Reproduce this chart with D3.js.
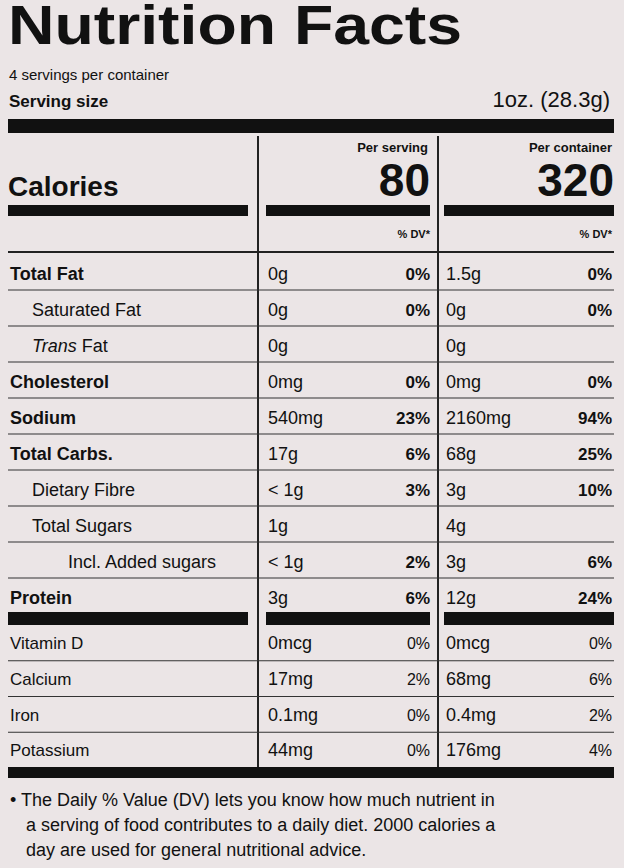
<!DOCTYPE html>
<html>
<head>
<meta charset="utf-8">
<script src="https://cdn.jsdelivr.net/npm/d3@7"></script>
<style>
  body { margin: 0; background: #ebe5e6; }
  text { font-family: "Liberation Sans", Arial, sans-serif; fill: #111; }
</style>
</head>
<body>
<div id="label"></div>
<script>
const nutrients = ['Total Fat', 'Saturated Fat', 'Trans Fat', 'Cholesterol', 'Sodium', 'Total Carbs.', 'Dietary Fibre', 'Total Sugars', 'Incl. Added sugars', 'Protein'];
const indent = [0, 1, 1, 0, 0, 0, 1, 1, 2, 0];
const perServing = ['0g', '0g', '0g', '0mg', '540mg', '17g', '< 1g', '1g', '< 1g', '3g'];
const dvServing = ['0%', '0%', '', '0%', '23%', '6%', '3%', '', '2%', '6%'];
const perContainer = ['1.5g', '0g', '0g', '0mg', '2160mg', '68g', '3g', '4g', '3g', '12g'];
const dvContainer = ['0%', '0%', '', '0%', '94%', '25%', '10%', '', '6%', '24%'];

const vitamins = ['Vitamin D', 'Calcium', 'Iron', 'Potassium'];
const vitServing = ['0mcg', '17mg', '0.1mg', '44mg'];
const vitDvServing = ['0%', '2%', '0%', '0%'];
const vitContainer = ['0mcg', '68mg', '0.4mg', '176mg'];
const vitDvContainer = ['0%', '6%', '2%', '4%'];

const W = 624, H = 868;
const svg = d3.select('#label').append('svg').attr('width', W).attr('height', H);
svg.append('rect').attr('width', W).attr('height', H).attr('fill', '#ebe5e6');

// header
svg.append('text').attr('x', 8).attr('y', 44).attr('textLength', 454).attr('lengthAdjust', 'spacingAndGlyphs')
  .style('font-size', '56px').style('font-weight', 'bold').text('Nutrition Facts');
svg.append('text').attr('x', 9).attr('y', 80).style('font-size', '15px').text('4 servings per container');
svg.append('text').attr('x', 9).attr('y', 107).style('font-size', '17px').style('font-weight', 'bold').text('Serving size');
svg.append('text').attr('x', 610).attr('y', 107).attr('text-anchor', 'end').style('font-size', '22px').text('1oz. (28.3g)');
svg.append('rect').attr('x', 8).attr('y', 119).attr('width', 606).attr('height', 14).attr('fill', '#111');

// column positions
const cols = { label: 10, s: 268, sdv: 430, c: 446, cdv: 612 };
svg.selectAll('.vline').data([258, 438]).join('line')
  .attr('x1', d => d).attr('x2', d => d).attr('y1', 136).attr('y2', 768)
  .attr('stroke', '#222').attr('stroke-width', 2);

// calories block
svg.append('text').attr('x', 428).attr('y', 152).attr('text-anchor', 'end').style('font-size', '13px').style('font-weight', 'bold').text('Per serving');
svg.append('text').attr('x', 612).attr('y', 152).attr('text-anchor', 'end').style('font-size', '13px').style('font-weight', 'bold').text('Per container');
svg.append('text').attr('x', 430).attr('y', 196).attr('text-anchor', 'end').style('font-size', '46px').style('font-weight', 'bold').text('80');
svg.append('text').attr('x', 614).attr('y', 196).attr('text-anchor', 'end').style('font-size', '46px').style('font-weight', 'bold').text('320');
svg.append('text').attr('x', 8).attr('y', 196).style('font-size', '28px').style('font-weight', 'bold').text('Calories');

const bars = [[8, 248], [266, 430], [444, 614]];
function thickBars(y, h) {
  svg.append('g').selectAll('rect').data(bars).join('rect')
    .attr('x', d => d[0]).attr('width', d => d[1] - d[0]).attr('y', y).attr('height', h).attr('fill', '#111');
}
thickBars(205, 11);
svg.selectAll('.dvh').data([cols.sdv, cols.cdv]).join('text')
  .attr('x', d => d).attr('y', 238).attr('text-anchor', 'end')
  .style('font-size', '11px').style('font-weight', 'bold').text('% DV*');
svg.append('line').attr('x1', 8).attr('x2', 614).attr('y1', 252).attr('y2', 252).attr('stroke', '#222').attr('stroke-width', 2);

// nutrient rows
const indentPx = [0, 22, 58];
const y1 = d3.scaleBand().domain(nutrients).range([254, 614]);
const rows = svg.append('g').selectAll('g').data(nutrients).join('g')
  .attr('transform', d => `translate(0,${y1(d)})`);
rows.append('text').attr('x', (d, i) => cols.label + indentPx[indent[i]])
  .attr('y', 26).style('font-size', '18px')
  .style('font-weight', (d, i) => indent[i] ? 'normal' : 'bold')
  .each(function (d) {
    const t = d3.select(this);
    if (d === 'Trans Fat') {
      t.append('tspan').style('font-style', 'italic').text('Trans');
      t.append('tspan').text(' Fat');
    } else t.text(d);
  });
rows.append('text').attr('x', cols.s).attr('y', 26).style('font-size', '18px').text((d, i) => perServing[i]);
rows.append('text').attr('x', cols.sdv).attr('y', 26).attr('text-anchor', 'end').style('font-size', '17px').style('font-weight', 'bold').text((d, i) => dvServing[i]);
rows.append('text').attr('x', cols.c).attr('y', 26).style('font-size', '18px').text((d, i) => perContainer[i]);
rows.append('text').attr('x', cols.cdv).attr('y', 26).attr('text-anchor', 'end').style('font-size', '17px').style('font-weight', 'bold').text((d, i) => dvContainer[i]);
rows.filter((d, i) => i < nutrients.length - 1).append('line')
  .attr('x1', 8).attr('x2', 614).attr('y1', y1.bandwidth()).attr('y2', y1.bandwidth())
  .attr('stroke', '#333').attr('stroke-width', 1.2);

thickBars(612, 13);

// vitamins
const y2 = d3.scaleBand().domain(vitamins).range([625, 768]);
const vrows = svg.append('g').selectAll('g').data(vitamins).join('g')
  .attr('transform', d => `translate(0,${y2(d)})`);
vrows.append('text').attr('x', cols.label).attr('y', 24).style('font-size', '17px').text(d => d);
vrows.append('text').attr('x', cols.s).attr('y', 24).style('font-size', '18px').text((d, i) => vitServing[i]);
vrows.append('text').attr('x', cols.sdv).attr('y', 24).attr('text-anchor', 'end').style('font-size', '16px').text((d, i) => vitDvServing[i]);
vrows.append('text').attr('x', cols.c).attr('y', 24).style('font-size', '18px').text((d, i) => vitContainer[i]);
vrows.append('text').attr('x', cols.cdv).attr('y', 24).attr('text-anchor', 'end').style('font-size', '16px').text((d, i) => vitDvContainer[i]);
vrows.filter((d, i) => i < vitamins.length - 1).append('line')
  .attr('x1', 8).attr('x2', 614).attr('y1', y2.bandwidth()).attr('y2', y2.bandwidth())
  .attr('stroke', '#333').attr('stroke-width', 1.2);

svg.append('rect').attr('x', 8).attr('y', 767).attr('width', 606).attr('height', 11).attr('fill', '#111');

// footnote
const foot = [
  '• The Daily % Value (DV) lets you know how much nutrient in',
  'a serving of food contributes to a daily diet. 2000 calories a',
  'day are used for general nutritional advice.'
];
svg.append('g').selectAll('text').data(foot).join('text')
  .attr('x', (d, i) => i === 0 ? 10 : 26).attr('y', (d, i) => 806 + i * 25)
  .style('font-size', '18px').text(d => d);
</script>
</body>
</html>
